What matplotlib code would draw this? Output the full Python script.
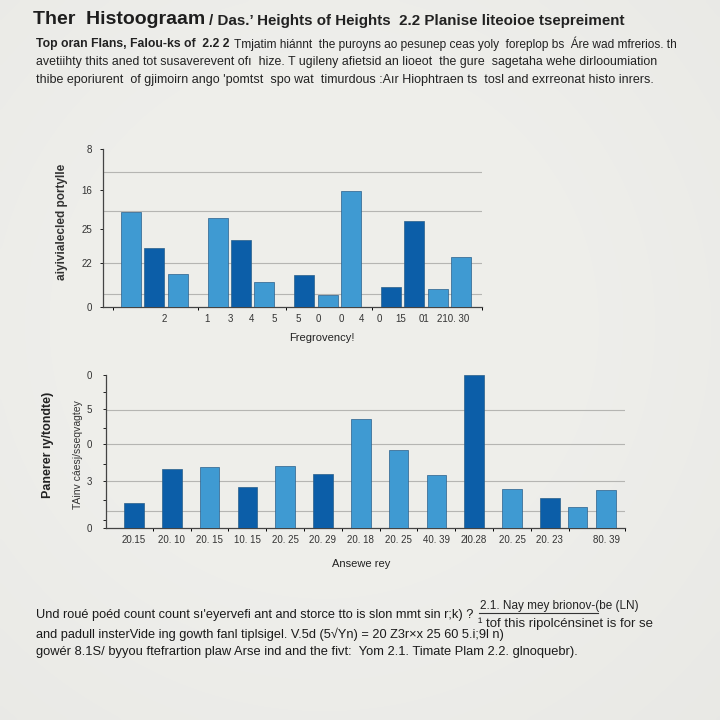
import numpy as np
import matplotlib
matplotlib.use("Agg")
import matplotlib.pyplot as plt
from matplotlib.lines import Line2D
from matplotlib import font_manager

# ---------------- data ----------------
top_values = [23.75, 14.75, 8.25, 22.25, 16.75, 6.25, 8.0, 3.0, 29.0, 5.0, 21.5, 4.5, 12.5]
top_shades = ["L", "D", "L", "L", "D", "L", "D", "L", "L", "D", "D", "L", "L"]
top_groups = [0, 0, 0, 1, 1, 1, 2, 2, 2, 3, 3, 3, 3]
top_xtick_labels = ["2", "1", "3", "4", "5", "5", "0", "0", "4", "0", "15", "01", "210. 30"]
top_ytick_labels = ["0", "22", "25", "16", "8"]
top_ytick_values = [0, 11, 19.5, 29.25, 39.5]
top_grid_values = [3.25, 11, 24, 33.75]

bot_values = [6.25, 14.7, 15.1, 10.25, 15.5, 13.4, 27.1, 19.4, 13.1, 38.1, 9.7, 7.5, 5.2, 9.4]
bot_shades = ["D", "D", "L", "D", "L", "D", "L", "L", "L", "D", "L", "D", "L", "L"]
bot_xtick_labels = ["20.15", "20. 10", "20. 15", "10. 15", "20. 25", "20. 29", "20. 18",
                    "20. 25", "40. 39", "2l0.28", "20. 25", "20. 23", "", "80. 39"]
bot_ytick_labels = ["0", "3", "0", "5", "0"]
bot_ytick_values = [0, 11.7, 20.9, 29.7, 38.2]
bot_grid_values = [4.25, 11.75, 20.85, 29.4]

LIGHT = "#3f9ad2"
DARK = "#0c5ea8"
shade_color = {"L": LIGHT, "D": DARK}

# ---------------- fonts ----------------
avail = {f.name for f in font_manager.fontManager.ttflist}
narrow = "Liberation Sans Narrow" if "Liberation Sans Narrow" in avail else "Liberation Sans"
FAM = [narrow, "Liberation Sans", "DejaVu Sans"]
REG = ["Liberation Sans", "DejaVu Sans"]
plt.rcParams["font.family"] = REG

W = H = 720
fig = plt.figure(figsize=(7.2, 7.2), dpi=100)
BG = "#ecece7"
fig.patch.set_facecolor(BG)

# subtle vignette background
bgax = fig.add_axes([0, 0, 1, 1], zorder=-10)
yy, xx = np.mgrid[0:1:200j, 0:1:200j]
r = np.sqrt((xx - 0.45) ** 2 + (yy - 0.45) ** 2)
shade = 0.935 - 0.05 * np.clip(r - 0.35, 0, None)
img = np.dstack([shade, shade, shade * 0.985])
bgax.imshow(img, extent=[0, 1, 0, 1], aspect="auto", interpolation="bicubic")
bgax.set_axis_off()


def px_rect(x0, y0, x1, y1):
    return [x0 / W, 1 - y1 / H, (x1 - x0) / W, (y1 - y0) / H]


def ftext(x, y, s, **kw):
    return fig.text(x / W, 1 - y / H, s, va="center", ha=kw.pop("ha", "left"), **kw)


def style_axes(ax):
    ax.set_facecolor("none")
    for side in ["top", "right"]:
        ax.spines[side].set_visible(False)
    for side in ["left", "bottom"]:
        ax.spines[side].set_color("#444444")
        ax.spines[side].set_linewidth(0.9)


# ---------------- top chart ----------------
ax1 = fig.add_axes(px_rect(103, 149, 482, 307))
style_axes(ax1)
top_pos = np.arange(len(top_values)) + 0.7 * np.array(top_groups)
ax1.bar(top_pos, top_values, width=0.855,
        color=[shade_color[s] for s in top_shades],
        edgecolor="#2a5f8a", linewidth=0.5, zorder=3)
for g in top_grid_values:
    ax1.axhline(g, color="#b5b5b2", linewidth=0.8, zorder=1)
ax1.set_xlim(-1.2, 15.0)
ax1.set_ylim(0, 39.5)
ax1.set_yticks(top_ytick_values)
ax1.set_yticklabels(top_ytick_labels, fontsize=7, color="#333333")
ax1.tick_params(axis="y", length=2, width=0.6, pad=6)
top_label_pos = [1.41, 3.25, 4.23, 5.13, 6.11, 7.14, 7.99, 8.97, 9.83, 10.6, 11.54, 12.52, 13.76]
ax1.set_xticks(top_label_pos)
ax1.set_xticklabels(top_xtick_labels, fontsize=7, color="#333333")
ax1.tick_params(axis="x", length=0, pad=5)
ax1.set_xticks([-0.77, 2.86, 6.62, 10.3, 15.0], minor=True)
ax1.tick_params(axis="x", which="minor", length=2.5, width=0.7, direction="out")
ftext(322, 338, "Fregrovency!", fontsize=8, ha="center", color="#222222", family=FAM)
fig.text(62 / W, 1 - 222 / H, "aiyivialecled portylle", rotation=90, va="center",
         ha="center", fontsize=8.5, fontweight="bold", color="#333333", family=FAM)

# ---------------- bottom chart ----------------
ax2 = fig.add_axes(px_rect(106, 375, 625, 527.7))
style_axes(ax2)
bot_pos = np.concatenate([np.arange(12), [11.73, 12.49]])
ax2.bar(bot_pos, bot_values, width=0.52,
        color=[shade_color[s] for s in bot_shades],
        edgecolor="#2a5f8a", linewidth=0.5, zorder=3)
for g in bot_grid_values:
    ax2.axhline(g, color="#b5b5b2", linewidth=0.8, zorder=1)
ax2.set_xlim(-0.74, 12.99)
ax2.set_ylim(0, 38.2)
ax2.set_yticks(bot_ytick_values)
ax2.set_yticklabels(bot_ytick_labels, fontsize=7, color="#333333")
ax2.tick_params(axis="y", length=2, width=0.6, pad=8)
ax2.set_yticks([2, 7, 16, 25, 34], minor=True)
ax2.tick_params(axis="y", which="minor", length=2, width=0.6)
ax2.set_xticks(bot_pos)
ax2.set_xticklabels(bot_xtick_labels, fontsize=7, color="#333333")
ax2.tick_params(axis="x", length=0, pad=5)
ax2.set_xticks(list(np.arange(12) + 0.5) + [12.99], minor=True)
ax2.tick_params(axis="x", which="minor", length=2.5, width=0.7, direction="out")
ftext(361, 564, "Ansewe rey", fontsize=8, ha="center", color="#222222", family=FAM)
fig.text(48 / W, 1 - 445 / H, "Panerer \u0131y/tondte)", rotation=90, va="center",
         ha="center", fontsize=9, fontweight="bold", color="#222222", family=FAM)
fig.text(78 / W, 1 - 455 / H, "TAinv c\u00e1esj/sseqvagtey", rotation=90, va="center",
         ha="center", fontsize=7.5, color="#333333", family=FAM)

# ---------------- header text ----------------
ftext(33, 20, "Ther  Histoograam", fontsize=14, fontweight="bold", color="#1e1e1e", family=FAM)
ftext(209, 21, "/ Das.\u2019 Heights of Heights  2.2 Planise liteoioe tsepreiment",
      fontsize=10.9, fontweight="bold", color="#222222", family=FAM)

renderer = fig.canvas.get_renderer()
bold_part = ftext(36, 44, "Top oran Flans, Falou-ks of  2.2 2", fontsize=8.8,
                  fontweight="bold", color="#222222", family=FAM)
bb = bold_part.get_window_extent(renderer)
ftext(bb.x1 + 4, 44, "Tmjatim hi\u00e1nnt  the puroyns ao pesunep ceas yoly  foreplop bs  \u00c1re wad mfrerios. th",
      fontsize=8.55, color="#222222", family=FAM)
ftext(36, 62, "avetiihty thits aned tot susaverevent of\u0131  hize. T ugileny afietsid an lioeot  the gure  sagetaha wehe dirlooumiation",
      fontsize=8.9, color="#222222", family=FAM)
ftext(36, 80, "thibe eporiurent  of gjimoirn ango 'pomtst  spo wat  timurdous :A\u0131r Hiophtraen ts  tosl and exrreonat histo inrers.",
      fontsize=9.0, color="#222222", family=FAM)

# ---------------- footer text ----------------
ftext(36, 615, "Und rou\u00e9 po\u00e9d count count s\u0131'eyervefi ant and storce tto is slon mmt sin r;k) ?",
      fontsize=9.2, color="#1a1a1a", family=FAM)
ftext(36, 634, "and padull insterVide ing gowth fanl tiplsigel. V.5d (5\u221aYn) = 20 Z3r\u00d7x 25 60 5.i;9l n)",
      fontsize=9.2, color="#1a1a1a", family=FAM)
ftext(36, 652, "gow\u00e9r 8.1S/ byyou ftefrartion plaw Arse ind and the fivt:  Yom 2.1. Timate Plam 2.2. glnoquebr).",
      fontsize=9.3, color="#1a1a1a", family=FAM)
ftext(480, 606, "2.1. Nay mey brionov-(be (LN)", fontsize=8.5, color="#222222", family=FAM)
fig.add_artist(Line2D([479 / W, 598 / W], [1 - 613 / H, 1 - 613 / H], color="#333333", linewidth=0.8))
ftext(478, 624, "\u00b9 tof this ripolc\u00e9nsinet is for se", fontsize=9.5, color="#222222", family=FAM)

fig.savefig("out.png", dpi=100, facecolor=fig.get_facecolor())
